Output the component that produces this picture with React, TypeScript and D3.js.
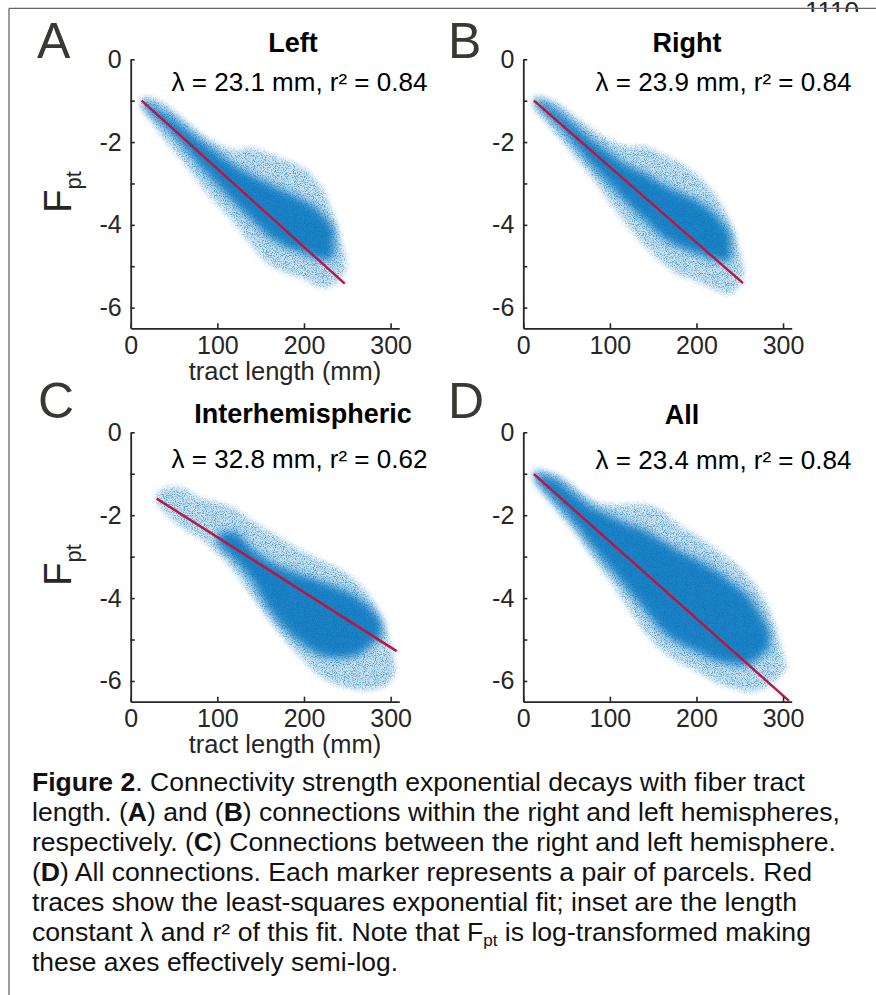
import React, { useEffect, useRef } from "react";
import * as d3 from "d3";

// ---------------- data ----------------
const panelIds = ["A", "B", "C", "D"];
const panelTitles = ["Left", "Right", "Interhemispheric", "All"];
const lambdaValues = ["23.1", "23.9", "32.8", "23.4"];
const r2Values = ["0.84", "0.84", "0.62", "0.84"];
const xTicks = [0, 100, 200, 300];
const yTicks = [0, -1, -2, -3, -4, -5, -6];
const xDomain = [0, 310];
const yDomain = [0, -6.5];
const xLabel = "tract length (mm)";

// point-cloud envelopes (tract length mm, log10 Fpt)
const cloudXA = [12, 20, 40, 60, 80, 100, 120, 140, 160, 180, 200, 220, 235, 248];
const outerTopA = [-0.95, -0.92, -1.1, -1.45, -1.8, -2.05, -2.2, -2.15, -2.3, -2.45, -2.65, -3.1, -3.85, -4.8];
const outerBotA = [-1.15, -1.35, -1.95, -2.45, -3.0, -3.5, -3.95, -4.5, -4.95, -5.15, -5.3, -5.5, -5.45, -5.1];
const coreXA = [15, 20, 40, 60, 80, 100, 120, 140, 160, 180, 200, 220, 235];
const coreTopA = [-1.0, -1.05, -1.3, -1.6, -1.95, -2.25, -2.55, -2.8, -3.0, -3.2, -3.4, -3.7, -4.1];
const coreBotA = [-1.1, -1.25, -1.65, -2.1, -2.6, -3.05, -3.5, -3.9, -4.3, -4.55, -4.7, -4.85, -4.8];

const cloudXB = [12, 20, 40, 60, 80, 100, 120, 140, 160, 180, 200, 220, 240, 254];
const outerTopB = [-0.9, -0.92, -1.08, -1.4, -1.7, -1.95, -2.12, -2.1, -2.3, -2.5, -2.8, -3.25, -4.0, -5.0];
const outerBotB = [-1.15, -1.35, -1.85, -2.35, -2.85, -3.45, -4.0, -4.5, -4.9, -5.2, -5.35, -5.55, -5.65, -5.3];
const coreXB = [15, 20, 40, 60, 80, 100, 120, 140, 160, 180, 200, 220, 240];
const coreTopB = [-1.0, -1.0, -1.25, -1.6, -1.95, -2.25, -2.55, -2.75, -3.0, -3.2, -3.4, -3.7, -4.2];
const coreBotB = [-1.1, -1.2, -1.6, -2.1, -2.6, -3.05, -3.5, -3.9, -4.3, -4.55, -4.7, -4.85, -4.9];

const cloudXC = [30, 40, 60, 80, 100, 120, 140, 160, 180, 200, 220, 240, 260, 280, 295, 305];
const outerTopC = [-1.5, -1.35, -1.35, -1.6, -1.7, -1.85, -2.15, -2.4, -2.65, -2.9, -3.1, -3.3, -3.6, -4.1, -4.8, -5.6];
const outerBotC = [-1.7, -1.95, -2.3, -2.55, -2.9, -3.35, -3.95, -4.5, -5.05, -5.5, -5.9, -6.1, -6.2, -6.2, -6.1, -5.8];
const coreXC = [100, 120, 140, 160, 180, 200, 220, 240, 260, 280, 290];
const coreTopC = [-2.45, -2.4, -2.8, -3.1, -3.3, -3.45, -3.6, -3.75, -3.95, -4.3, -4.6];
const coreBotC = [-2.7, -3.1, -3.6, -4.3, -4.8, -5.15, -5.4, -5.45, -5.4, -5.1, -4.9];

const cloudXD = [12, 20, 40, 60, 80, 100, 120, 140, 160, 180, 200, 220, 240, 260, 280, 295, 305];
const outerTopD = [-0.9, -0.92, -1.05, -1.35, -1.65, -1.75, -1.75, -1.75, -1.9, -2.25, -2.5, -2.8, -3.1, -3.5, -4.1, -5.0, -5.8];
const outerBotD = [-1.15, -1.35, -1.9, -2.4, -3.0, -3.55, -4.2, -4.8, -5.25, -5.55, -5.75, -6.0, -6.15, -6.25, -6.15, -5.9, -5.6];
const coreXD = [15, 20, 40, 60, 80, 100, 120, 140, 160, 180, 200, 220, 240, 260, 275, 285];
const coreTopD = [-0.95, -1.0, -1.15, -1.5, -1.8, -2.0, -2.2, -2.35, -2.6, -2.85, -3.05, -3.3, -3.6, -3.95, -4.4, -4.8];
const coreBotD = [-1.15, -1.3, -1.75, -2.25, -2.8, -3.3, -3.8, -4.3, -4.8, -5.1, -5.3, -5.5, -5.6, -5.6, -5.4, -5.2];

// least-squares exponential fit traces (end points)
const fitXA = [12.7, 247];
const fitYA = [-1.0, -5.42];
const fitXB = [12.3, 253.8];
const fitYB = [-1.0, -5.41];
const fitXC = [30, 306.9];
const fitYC = [-1.6, -5.28];
const fitXD = [12.3, 306.9];
const fitYD = [-1.01, -6.48];

const clouds = [
  { ox: cloudXA, ot: outerTopA, ob: outerBotA, cx: coreXA, ct: coreTopA, cb: coreBotA, fx: fitXA, fy: fitYA },
  { ox: cloudXB, ot: outerTopB, ob: outerBotB, cx: coreXB, ct: coreTopB, cb: coreBotB, fx: fitXB, fy: fitYB },
  { ox: cloudXC, ot: outerTopC, ob: outerBotC, cx: coreXC, ct: coreTopC, cb: coreBotC, fx: fitXC, fy: fitYC },
  { ox: cloudXD, ot: outerTopD, ob: outerBotD, cx: coreXD, ct: coreTopD, cb: coreBotD, fx: fitXD, fy: fitYD },
];

// caption: [text, style] where style: b = bold, n = normal, s = subscript
const captionLines: [string, string][][] = [
  [["Figure 2", "b"], [". Connectivity strength exponential decays with fiber tract", "n"]],
  [["length. (", "n"], ["A", "b"], [") and (", "n"], ["B", "b"], [") connections within the right and left hemispheres,", "n"]],
  [["respectively. (", "n"], ["C", "b"], [") Connections between the right and left hemisphere.", "n"]],
  [["(", "n"], ["D", "b"], [") All connections. Each marker represents a pair of parcels. Red", "n"]],
  [["traces show the least-squares exponential fit; inset are the length", "n"]],
  [["constant λ and r² of this fit. Note that F", "n"], ["pt", "s"], [" is log-transformed making", "n"]],
  [["these axes effectively semi-log.", "n"]],
];
const pageNumber = "1110";

// ---------------- layout / style ----------------
const W = 876;
const H = 995;
const FONT = "'Liberation Sans', Arial, Helvetica, sans-serif";
const BLUE = "#0072BD";
const RED = "#BE1440";
const AXIS = "#262626";
const captionWidths = [773, 808, 804, 780, 765, 779, 366];

const layouts = [
  { x0: 130.7, x1: 399.3, y0: 59.3, y1: 328.3, lx: 37, ly: 58, tx: 293, ty: 52, ax: 299.5, ay: 90.7, fpt: 192, xl: true },
  { x0: 523.3, x1: 791.7, y0: 59.3, y1: 328.3, lx: 448, ly: 58, tx: 687, ty: 52, ax: 723.5, ay: 90.7, fpt: 0, xl: false },
  { x0: 130.7, x1: 399.3, y0: 432.3, y1: 701.7, lx: 38, ly: 418, tx: 303, ty: 423.3, ax: 299.5, ay: 468.3, fpt: 565, xl: true },
  { x0: 523.3, x1: 791.7, y0: 432.3, y1: 701.7, lx: 448, ly: 418, tx: 682, ty: 424, ax: 723.5, ay: 469, fpt: 0, xl: false },
];

function Panel({ i }: { i: number }) {
  const L = layouts[i];
  const c = clouds[i];
  const x = d3.scaleLinear().domain(xDomain).range([L.x0, L.x1]);
  const y = d3.scaleLinear().domain(yDomain).range([L.y0, L.y1]);
  const gxRef = useRef<SVGGElement>(null);
  const gyRef = useRef<SVGGElement>(null);

  useEffect(() => {
    const gx = d3.select(gxRef.current);
    gx.selectAll("*").remove();
    gx.call(
      d3
        .axisBottom(x)
        .tickValues(xTicks)
        .tickSizeInner(-5)
        .tickSizeOuter(0)
        .tickPadding(8)
        .tickFormat((d: any) => String(d))
    );
    const gy = d3.select(gyRef.current);
    gy.selectAll("*").remove();
    gy.call(
      d3
        .axisLeft(y)
        .tickValues(yTicks)
        .tickSizeInner(-4)
        .tickSizeOuter(0)
        .tickPadding(9)
        .tickFormat((d: any) => (d % 2 === 0 ? String(d === 0 ? 0 : d) : ""))
    );
    [gx, gy].forEach((g) => {
      g.attr("font-size", 25).attr("font-family", FONT).attr("color", AXIS);
      g.select(".domain").attr("stroke-width", 1.8);
      g.selectAll(".tick line").attr("stroke-width", 1.6);
    });
  }, []);

  const idx = (a: number[]) => a.map((_, j) => j);
  const outerArea = d3
    .area<number>()
    .x((j) => x(c.ox[j]))
    .y0((j) => y(c.ob[j]))
    .y1((j) => y(c.ot[j]))
    .curve(d3.curveCatmullRom)(idx(c.ox));
  const coreArea = d3
    .area<number>()
    .x((j) => x(c.cx[j]))
    .y0((j) => y(c.cb[j]))
    .y1((j) => y(c.ct[j]))
    .curve(d3.curveCatmullRom)(idx(c.cx));
  const fitLine = d3
    .line<number>()
    .x((j) => x(c.fx[j]))
    .y((j) => y(c.fy[j]))(idx(c.fx));

  return (
    <g>
      <text x={L.lx} y={L.ly} fontSize={50} fill="#3b3833" fontFamily={FONT}>
        {panelIds[i]}
      </text>
      <text x={L.tx} y={L.ty} fontSize={27} fontWeight="bold" textAnchor="middle" fontFamily={FONT} fill="#000">
        {panelTitles[i]}
      </text>
      <g>
        <path d={outerArea || ""} fill={BLUE} opacity={0.2} filter="url(#soft)" />
        <path d={outerArea || ""} fill={BLUE} opacity={0.7} filter="url(#grain)" />
        <path d={coreArea || ""} fill={BLUE} opacity={0.85} filter="url(#coreblur)" />
      </g>
      <path d={fitLine || ""} stroke={RED} strokeWidth={2.4} fill="none" />
      <g ref={gxRef} transform={`translate(0,${L.y1})`} />
      <g ref={gyRef} transform={`translate(${L.x0},0)`} />
      <text x={L.ax} y={L.ay} fontSize={26} textAnchor="middle" fontFamily={FONT} fill="#000">
        {`λ = ${lambdaValues[i]} mm, r² = ${r2Values[i]}`}
      </text>
      {L.xl && (
        <text x={285} y={L.y1 + 51.7} fontSize={25.5} textAnchor="middle" fontFamily={FONT} fill={AXIS}>
          {xLabel}
        </text>
      )}
      {L.fpt > 0 && (
        <text transform={`translate(71,${L.fpt}) rotate(-90)`} textAnchor="middle" fontFamily={FONT} fill={AXIS}>
          <tspan fontSize={38}>F</tspan>
          <tspan fontSize={22} dy={10}>pt</tspan>
        </text>
      )}
    </g>
  );
}

export default function App() {
  const capY0 = 790.7;
  const capDy = 30.1;
  return (
    <svg
      width={W}
      height={H}
      viewBox={`0 0 ${W} ${H}`}
      style={{ position: "absolute", left: 0, top: 0, background: "#fff" }}
      fontFamily={FONT}
    >
      <defs>
        <filter id="soft" x="-10%" y="-10%" width="120%" height="120%">
          <feGaussianBlur stdDeviation="2.5" />
        </filter>
        <filter id="coreblur" x="-20%" y="-20%" width="140%" height="140%">
          <feGaussianBlur stdDeviation="4" />
        </filter>
        <filter id="grain" x="-5%" y="-5%" width="110%" height="110%">
          <feGaussianBlur in="SourceGraphic" stdDeviation="3" result="blur" />
          <feTurbulence type="fractalNoise" baseFrequency="1.1" numOctaves="1" seed="7" result="noise" />
          <feColorMatrix
            in="noise"
            type="matrix"
            values="0 0 0 0 0  0 0 0 0 0  0 0 0 0 0  0 0 0 3.2 -1.45"
            result="mask"
          />
          <feComposite in="blur" in2="mask" operator="in" />
        </filter>
        <clipPath id="pnclip">
          <rect x={0} y={0} width={W} height={12} />
        </clipPath>
      </defs>
      <rect x={0} y={0} width={W} height={H} fill="#fff" />
      <text x={832} y={19.6} fontSize={26} textAnchor="middle" fill="#222" clipPath="url(#pnclip)">
        {pageNumber}
      </text>
      <line x1={9} y1={8.3} x2={W} y2={8.3} stroke="#666" strokeWidth={1.3} />
      <line x1={9} y1={8.3} x2={9} y2={H} stroke="#666" strokeWidth={1.3} />
      {panelIds.map((_, i) => (
        <Panel key={i} i={i} />
      ))}
      {captionLines.map((segs, li) => (
        <text
          key={li}
          x={32}
          y={capY0 + li * capDy}
          fontSize={25}
          fill="#111"
          textLength={captionWidths[li]}
          lengthAdjust="spacingAndGlyphs"
        >
          {segs.map(([t, s], k) =>
            s === "s" ? (
              <tspan key={k} fontSize={16} dy={5}>
                {t}
              </tspan>
            ) : (
              <tspan key={k} fontWeight={s === "b" ? "bold" : "normal"} dy={k > 0 && segs[k - 1][1] === "s" ? -5 : 0}>
                {t}
              </tspan>
            )
          )}
        </text>
      ))}
    </svg>
  );
}
